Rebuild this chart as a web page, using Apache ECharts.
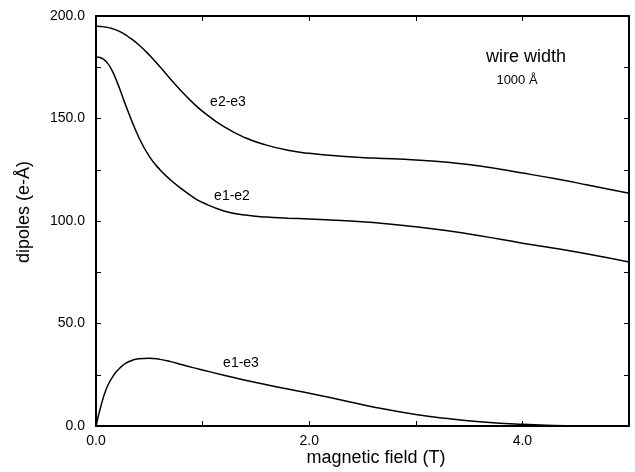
<!DOCTYPE html>
<html>
<head>
<meta charset="utf-8">
<script src="https://cdn.jsdelivr.net/npm/echarts@6/dist/echarts.min.js"></script>
<style>
  html, body { margin: 0; padding: 0; background: #fff; }
  #chart { width: 635px; height: 472px; }
</style>
</head>
<body>
<div id="chart"></div>
<script>
var fieldT = [0, 0.05, 0.1, 0.15, 0.2, 0.25, 0.3, 0.4, 0.5, 0.6, 0.7, 0.8, 0.9, 1.0,
  1.2, 1.4, 1.6, 1.8, 2.0, 2.3, 2.6, 3.0, 3.3, 3.6, 4.0, 4.3, 4.6, 5.0];

// dipoles (e-Å)
var e2e3 = [195, 194.85, 194.5, 193.9, 193, 191.6, 190, 186, 181, 175.2, 169.2, 163.4, 158.1, 153.5,
  146, 140.6, 137, 134.5, 133, 131.6, 130.7, 129.8, 128.6, 126.8, 123.4, 120.7, 117.7, 113.5];
var e1e2 = [180, 179.5, 177.5, 173.5, 167.5, 160.5, 153.5, 141, 131.5, 125, 120, 115.8, 112, 109,
  104.9, 102.9, 101.9, 101.4, 101, 100.3, 99.3, 97.2, 95.2, 92.8, 89.2, 86.7, 84, 80];
var e1e3 = [0, 10.5, 18.5, 23.5, 27, 29.5, 31.2, 32.8, 33.1, 32.5, 31.4, 30, 28.6, 27.3,
  24.8, 22.3, 20.1, 18, 16, 12.7, 9.3, 5.6, 3.6, 2.1, 0.8, 0.3, 0.1, 0];

var font = "'Liberation Sans', Arial, Helvetica, sans-serif";
var ink = "#000";

function pairs(ys) {
  return fieldT.map(function (x, i) { return [x, ys[i]]; });
}

function curve(name, ys) {
  return {
    name: name,
    type: "line",
    data: pairs(ys),
    smooth: 0.5,
    showSymbol: false,
    lineStyle: { color: ink, width: 1.5 },
    silent: true
  };
}

var myChart = echarts.init(document.getElementById("chart"));

var xBase = {
  type: "value",
  min: 0,
  max: 5,
  interval: 1,
  splitLine: { show: false },
  axisLine: { onZero: false, lineStyle: { color: ink, width: 2 } },
  axisTick: { inside: true, length: 5, lineStyle: { color: ink, width: 1 } }
};
var yBase = {
  type: "value",
  min: 0,
  max: 200,
  interval: 25,
  splitLine: { show: false },
  axisLine: { onZero: false, lineStyle: { color: ink, width: 2 } },
  axisTick: { inside: true, length: 5, lineStyle: { color: ink, width: 1 } }
};

var option = {
  backgroundColor: "#fff",
  animation: false,
  grid: { left: 96, right: 6, top: 16, bottom: 46 },
  xAxis: [
    Object.assign({}, xBase, {
      position: "bottom",
      axisLabel: {
        color: ink, fontFamily: font, fontSize: 14, margin: 8,
        formatter: function (v) { return v % 2 === 0 ? v.toFixed(1) : ""; }
      }
    }),
    Object.assign({}, xBase, { position: "top", axisLabel: { show: false } })
  ],
  yAxis: [
    Object.assign({}, yBase, {
      position: "left",
      axisLabel: {
        color: ink, fontFamily: font, fontSize: 14, margin: 11,
        formatter: function (v) { return v % 50 === 0 ? v.toFixed(1) : ""; }
      }
    }),
    Object.assign({}, yBase, { position: "right", axisLabel: { show: false } })
  ],
  series: [
    curve("e2-e3", e2e3),
    curve("e1-e2", e1e2),
    curve("e1-e3", e1e3)
  ],
  graphic: [
    { type: "text", x: 228, y: 102, style: { text: "e2-e3", font: "14px " + font, fill: ink, align: "center", verticalAlign: "middle" } },
    { type: "text", x: 232, y: 196, style: { text: "e1-e2", font: "14px " + font, fill: ink, align: "center", verticalAlign: "middle" } },
    { type: "text", x: 241, y: 363, style: { text: "e1-e3", font: "14px " + font, fill: ink, align: "center", verticalAlign: "middle" } },
    { type: "text", x: 526, y: 57, style: { text: "wire width", font: "18px " + font, fill: ink, align: "center", verticalAlign: "middle" } },
    { type: "text", x: 517, y: 80, style: { text: "1000 Å", font: "13px " + font, fill: ink, align: "center", verticalAlign: "middle" } },
    { type: "text", x: 376, y: 458, style: { text: "magnetic field (T)", font: "18px " + font, fill: ink, align: "center", verticalAlign: "middle" } },
    { type: "text", x: 24, y: 212, rotation: Math.PI / 2, style: { text: "dipoles (e-Å)", font: "18px " + font, fill: ink, align: "center", verticalAlign: "middle" } }
  ]
};

myChart.setOption(option);
</script>
</body>
</html>
